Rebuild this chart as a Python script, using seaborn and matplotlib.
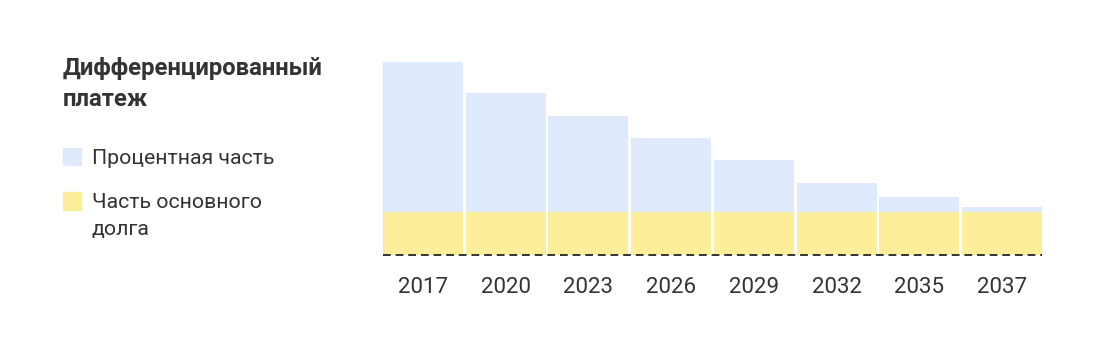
import numpy as np
import pandas as pd
import seaborn as sns
import matplotlib.pyplot as plt
from matplotlib.patches import Rectangle

years = ['2017', '2020', '2023', '2026', '2029', '2032', '2035', '2037']
principal = [43, 43, 43, 43, 43, 43, 43, 43]
interest = [150, 119, 96, 74, 52, 29, 15, 5]

title = 'Дифференцированный\nплатеж'
label_interest = 'Процентная часть'
label_principal = 'Часть основного\nдолга'

blue = '#DFEAFC'
yellow = '#FDEE9B'
dark = '#333333'

df = pd.DataFrame({'year': years, 'principal': principal, 'interest': interest})
df['total'] = df['principal'] + df['interest']

sns.set_theme(style='white')
plt.rcParams['font.family'] = ['Roboto', 'DejaVu Sans']

fig = plt.figure(figsize=(11.04, 3.57), dpi=100)
ax = fig.add_axes([381.5 / 1104, 102 / 357, 662 / 1104, 193 / 357])

sns.barplot(data=df, x='year', y='total', color=blue, width=0.965,
            saturation=1, ax=ax, linewidth=0)
sns.barplot(data=df, x='year', y='principal', color=yellow, width=0.965,
            saturation=1, ax=ax, linewidth=0)

ax.set_xlim(-0.5, len(years) - 0.5)
ax.set_ylim(0, df['total'].max())
ax.axhline(0, xmin=0.002, xmax=0.998, color=dark, lw=1.4, ls=(0, (4, 2.5)),
           clip_on=False, zorder=5)
sns.despine(ax=ax, left=True, bottom=True)
ax.set_yticks([])
ax.set_xlabel('')
ax.set_ylabel('')
ax.tick_params(axis='x', length=0, pad=16, labelsize=16, labelcolor=dark)

fig.text(63 / 1104, 1 - 57 / 357, title, fontsize=17.2, fontweight='bold',
         color=dark, va='top', ha='left', linespacing=1.42)

fig.patches.append(Rectangle((63 / 1104, 1 - 165 / 357), 18 / 1104, 17 / 357,
                             transform=fig.transFigure, color=blue))
fig.text(92 / 1104, 1 - 158 / 357, label_interest, fontsize=15.3, color=dark,
         va='center', ha='left')

fig.patches.append(Rectangle((63 / 1104, 1 - 210 / 357), 18 / 1104, 18 / 357,
                             transform=fig.transFigure, color=yellow))
fig.text(92 / 1104, 1 - 193 / 357, label_principal, fontsize=15.3, color=dark,
         va='top', ha='left', linespacing=1.5)

fig.savefig('out.png', dpi=100, facecolor='white')
